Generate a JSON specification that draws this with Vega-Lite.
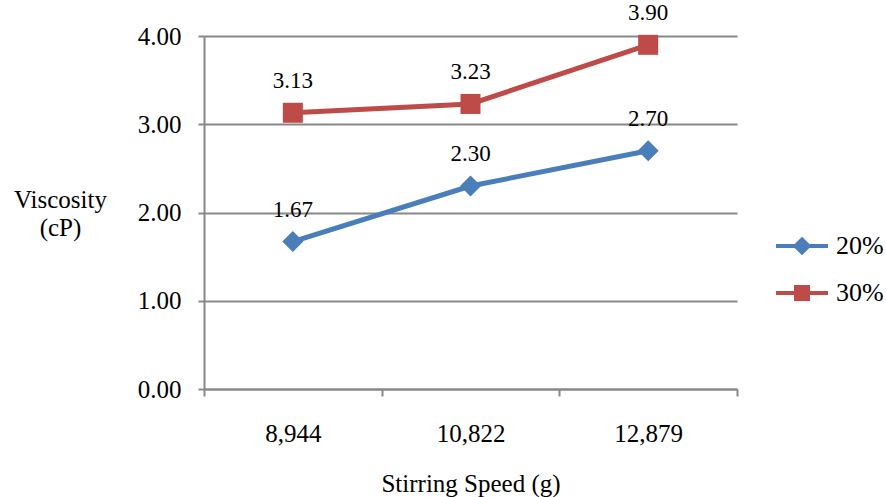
{
  "$schema": "https://vega.github.io/schema/vega-lite/v6.json",
  "width": 533,
  "height": 353,
  "autosize": {"type": "none"},
  "padding": {"left": 204, "top": 36, "right": 149, "bottom": 108},
  "background": "white",
  "config": {
    "view": {"stroke": null},
    "font": "Times New Roman, Liberation Serif, serif",
    "axis": {
      "labelFont": "Times New Roman, Liberation Serif, serif",
      "titleFont": "Times New Roman, Liberation Serif, serif",
      "labelColor": "black",
      "titleColor": "black",
      "titleFontWeight": "normal",
      "domainColor": "#888888",
      "domainWidth": 2,
      "tickColor": "#888888",
      "tickWidth": 2,
      "gridColor": "#888888",
      "gridWidth": 2
    },
    "legend": {
      "labelFont": "Times New Roman, Liberation Serif, serif"
    }
  },
  "data": {
    "values": [
      {"speed": "8,944", "series": "20%", "viscosity": 1.67},
      {"speed": "10,822", "series": "20%", "viscosity": 2.30},
      {"speed": "12,879", "series": "20%", "viscosity": 2.70},
      {"speed": "8,944", "series": "30%", "viscosity": 3.13},
      {"speed": "10,822", "series": "30%", "viscosity": 3.23},
      {"speed": "12,879", "series": "30%", "viscosity": 3.90}
    ]
  },
  "encoding": {
    "x": {
      "field": "speed",
      "type": "nominal",
      "sort": null,
      "scale": {"type": "band", "paddingInner": 0, "paddingOuter": 0},
      "axis": {
        "title": "Stirring Speed (g)",
        "labelAngle": 0,
        "labelFontSize": 25,
        "titleFontSize": 25,
        "tickBand": "extent",
        "tickSize": 7,
        "labelPadding": 25,
        "titlePadding": 25,
        "grid": false
      }
    },
    "y": {
      "field": "viscosity",
      "type": "quantitative",
      "scale": {"domain": [0, 4], "nice": false, "zero": true},
      "axis": {
        "title": ["Viscosity", "(cP)"],
        "titleAngle": 0,
        "titleAlign": "center",
        "titleBaseline": "alphabetic",
        "titleX": -144,
        "titleY": 171,
        "titleLineHeight": 28,
        "titleFontSize": 25,
        "labelFontSize": 25,
        "values": [0, 1, 2, 3, 4],
        "format": ".2f",
        "tickSize": 6,
        "labelPadding": 17,
        "grid": true
      }
    },
    "color": {
      "field": "series",
      "type": "nominal",
      "scale": {"domain": ["20%", "30%"], "range": ["#4A7EBB", "#BE4B48"]},
      "legend": {
        "title": null,
        "orient": "none",
        "legendX": 585,
        "legendY": 197,
        "padding": 0,
        "symbolSize": 400,
        "symbolStrokeWidth": 4,
        "labelFontSize": 26,
        "labelColor": "black",
        "labelOffset": 21,
        "rowPadding": 18,
        "encode": {
          "symbols": {
            "update": {
              "shape": {"signal": "datum.value === '20%' ? 'M-2.6,0H2.6M0,-0.65L0.65,0L0,0.65L-0.65,0Z' : 'M-2.6,0H2.6M-0.6,-0.6H0.6V0.6H-0.6Z'"},
              "fill": {"signal": "scale('color', datum.value)"},
              "stroke": {"signal": "scale('color', datum.value)"},
              "fillOpacity": {"value": 1},
              "strokeOpacity": {"value": 1},
              "opacity": {"value": 1},
              "strokeWidth": {"value": 4}
            }
          }
        }
      }
    }
  },
  "layer": [
    {
      "mark": {"type": "line", "strokeWidth": 5}
    },
    {
      "transform": [{"filter": "datum.series === '20%'"}],
      "mark": {"type": "point", "filled": true, "opacity": 1, "shape": "diamond", "size": 441}
    },
    {
      "transform": [{"filter": "datum.series === '30%'"}],
      "mark": {"type": "point", "filled": true, "opacity": 1, "shape": "square", "size": 400}
    },
    {
      "mark": {"type": "text", "baseline": "alphabetic", "dy": -25, "fontSize": 23, "font": "Times New Roman, Liberation Serif, serif", "color": "black"},
      "encoding": {
        "text": {"field": "viscosity", "type": "quantitative", "format": ".2f"},
        "color": {"value": "black"}
      }
    }
  ]
}
